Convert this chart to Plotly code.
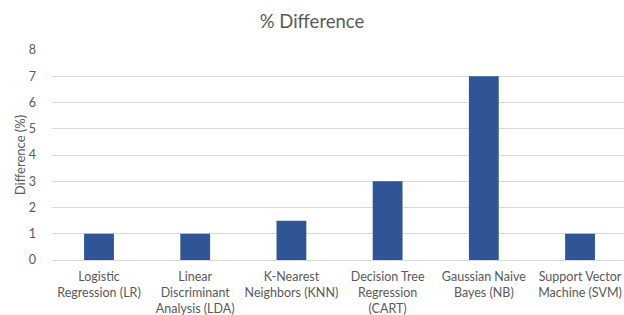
import plotly.graph_objects as go

categories = [
    "Logistic<br>Regression (LR)",
    "Linear<br>Discriminant<br>Analysis (LDA)",
    "K-Nearest<br>Neighbors (KNN)",
    "Decision Tree<br>Regression<br>(CART)",
    "Gaussian Naive<br>Bayes (NB)",
    "Support Vector<br>Machine (SVM)",
]
differences = [1.0, 1.0, 1.5, 3.0, 7.0, 1.0]
y_ticks = [0, 1, 2, 3, 4, 5, 6, 7, 8]

FONT = "Lato"
GRAY = "#595959"

W, H = 624, 315

fig = go.Figure(
    go.Bar(
        x=list(range(len(categories))),
        y=differences,
        width=0.31,
        marker=dict(color="#2F5597", line=dict(width=0)),
    )
)

fig.update_layout(
    width=W,
    height=H,
    margin=dict(l=52, r=0, t=50, b=55, pad=0),
    paper_bgcolor="white",
    plot_bgcolor="white",
    showlegend=False,
    title=dict(
        text="% Difference",
        x=0.5,
        xanchor="center",
        xref="container",
        y=1 - 22 / H,
        yref="container",
        yanchor="middle",
        font=dict(family=FONT, size=18.5, color=GRAY),
    ),
    font=dict(family=FONT, size=12.5, color=GRAY),
)

fig.update_xaxes(
    range=[-0.4886, 5.457],
    tickmode="array",
    tickvals=list(range(len(categories))),
    ticktext=categories,
    showgrid=False,
    zeroline=False,
    showline=False,
    ticks="",
    automargin=False,
    ticklabeloverflow="allow",
    tickfont=dict(family=FONT, size=12.5, color=GRAY),
    ticklabelstandoff=7,
)

fig.update_yaxes(
    range=[0, 8],
    tickmode="array",
    tickvals=y_ticks,
    showgrid=True,
    gridcolor="#D9D9D9",
    gridwidth=1,
    zeroline=True,
    zerolinecolor="#D9D9D9",
    zerolinewidth=1,
    showline=False,
    ticks="",
    automargin=False,
    ticklabelstandoff=15,
    tickfont=dict(family=FONT, size=12.5, color=GRAY),
    title=dict(text="Difference (%)", font=dict(family=FONT, size=13, color=GRAY), standoff=0),
)

fig.write_html(
    "out.html",
    config={"displayModeBar": False},
    post_script="document.body.style.margin='0';document.body.style.overflow='hidden';",
)
